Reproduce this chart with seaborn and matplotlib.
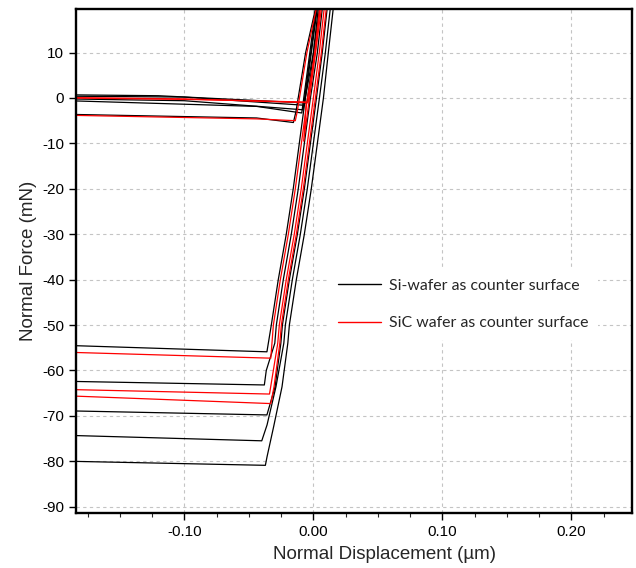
import numpy as np
import pandas as pd
import matplotlib
matplotlib.use("Agg")
import matplotlib.pyplot as plt
from matplotlib.ticker import MultipleLocator, FixedLocator
import seaborn as sns

# ---------------- data ----------------
series_labels = ["Si-wafer as counter surface", "SiC wafer as counter surface"]

# retraction curves: horizontal baseline from the left, corner, then steep rise
ret_A_x = [-0.19, -0.036, -0.0326, -0.0272, -0.0210, -0.0156, -0.0109, -0.0062, 0.0000, 0.0047]
ret_A_y = [-54.5, -55.9, -50, -40, -30, -20, -10, 0, 10, 22]
ret_B_x = [-0.19, -0.033, -0.0310, -0.0256, -0.0194, -0.0140, -0.0093, -0.0046, 0.0015, 0.0062]
ret_B_y = [-56.0, -57.3, -50, -40, -30, -20, -10, 0, 10, 22]
ret_C_x = [-0.19, -0.038, -0.0365, -0.0299, -0.0287, -0.0233, -0.0171, -0.0117, -0.0070, -0.0023, 0.0031, 0.0078]
ret_C_y = [-62.4, -63.2, -60, -54, -50, -40, -30, -20, -10, 0, 10, 22]
ret_D_x = [-0.19, -0.034, -0.0276, -0.0264, -0.0210, -0.0148, -0.0094, -0.0047, 0.0000, 0.0046, 0.0093]
ret_D_y = [-64.2, -65.2, -54, -50, -40, -30, -20, -10, 0, 10, 22]
ret_E_x = [-0.19, -0.033, -0.0305, -0.0260, -0.0248, -0.0194, -0.0132, -0.0078, -0.0031, 0.0016, 0.0062, 0.0109]
ret_E_y = [-65.6, -67.3, -63.6, -54, -50, -40, -30, -20, -10, 0, 10, 22]
ret_F_x = [-0.19, -0.036, -0.0297, -0.0252, -0.0240, -0.0186, -0.0124, -0.0070, -0.0023, 0.0024, 0.0069, 0.0116]
ret_F_y = [-68.9, -69.8, -63.6, -54, -50, -40, -30, -20, -10, 0, 10, 22]
ret_G_x = [-0.19, -0.040, -0.0359, -0.0290, -0.0229, -0.0217, -0.0163, -0.0101, -0.0047, 0.0000, 0.0047, 0.0093, 0.0140]
ret_G_y = [-74.3, -75.5, -72.0, -63.6, -54, -50, -40, -30, -20, -10, 0, 10, 22]
ret_H_x = [-0.19, -0.0372, -0.0359, -0.0308, -0.0243, -0.0198, -0.0186, -0.0132, -0.0070, -0.0016, 0.0031, 0.0078, 0.0116, 0.0163]
ret_H_y = [-80.0, -80.9, -79.0, -72.4, -63.6, -54, -50, -40, -30, -20, -10, 0, 10, 22]

# approach curves: baseline near zero, contact point, rise to the top
app_1_x = [-0.19, -0.12, -0.005, 0.0059]
app_1_y = [0.7, 0.5, -1.1, 22]
app_2_x = [-0.19, -0.10, -0.007, 0.0041]
app_2_y = [0.4, 0.2, -1.6, 22]
app_3_x = [-0.19, -0.10, -0.0055, -0.0075, -0.0030, 0.0073]
app_3_y = [0.1, -0.2, -1.0, -9.5, 0, 22]
app_4_x = [-0.19, -0.10, -0.008, 0.0036]
app_4_y = [-0.2, -0.6, -2.6, 22]
app_5_x = [-0.19, -0.044, -0.009, 0.0029]
app_5_y = [-0.6, -1.85, -3.3, 22]
app_6_x = [-0.19, -0.044, -0.0155, -0.0135, -0.0060, 0.0035]
app_6_y = [-3.6, -4.4, -5.4, -3.0, 10, 22]
app_7_x = [-0.19, -0.044, -0.014, -0.0125, -0.0050, 0.0040]
app_7_y = [-3.8, -4.6, -5.0, -3.0, 10, 22]
app_8_x = [-0.19, -0.10, -0.004, 0.0010, 0.0058]
app_8_y = [0.0, -0.3, -0.9, 10, 22]

curves = [
    ("A", 0, ret_A_x, ret_A_y), ("B", 1, ret_B_x, ret_B_y),
    ("C", 0, ret_C_x, ret_C_y), ("D", 1, ret_D_x, ret_D_y),
    ("E", 1, ret_E_x, ret_E_y), ("F", 0, ret_F_x, ret_F_y),
    ("G", 0, ret_G_x, ret_G_y), ("H", 0, ret_H_x, ret_H_y),
    ("U1", 0, app_1_x, app_1_y), ("U2", 0, app_2_x, app_2_y),
    ("U3", 1, app_3_x, app_3_y), ("U4", 0, app_4_x, app_4_y),
    ("U5", 0, app_5_x, app_5_y), ("U6", 0, app_6_x, app_6_y),
    ("U7", 1, app_7_x, app_7_y), ("U8", 1, app_8_x, app_8_y),
]

x_ticks = [-0.10, 0.00, 0.10, 0.20]
x_tick_labels = ["-0.10", "0.00", "0.10", "0.20"]
y_ticks = [-90, -80, -70, -60, -50, -40, -30, -20, -10, 0, 10]
y_tick_labels = ["-90", "-80", "-70", "-60", "-50", "-40", "-30", "-20", "-10", "0", "10"]

rows = []
for name, s, xs, ys in curves:
    for i, (xv, yv) in enumerate(zip(xs, ys)):
        rows.append({"x": xv, "y": yv, "curve": name, "surface": series_labels[s], "order": i})
df = pd.DataFrame(rows)

# ---------------- plotting ----------------
sns.set_style("white")
plt.rcParams["font.family"] = ["Liberation Sans", "DejaVu Sans"]

fig = plt.figure(figsize=(6.36, 5.68), dpi=100)
ax = fig.add_axes([76 / 636, 55 / 568, 556 / 636, 504 / 568])

sns.lineplot(data=df, x="x", y="y", hue="surface", units="curve",
             estimator=None, sort=False, palette=["black", "#ff0000"],
             hue_order=series_labels, linewidth=0.9, ax=ax, legend=True)

ax.set_xlim(-0.184, 0.247)
ax.set_ylim(-91.4, 19.6)

ax.xaxis.set_major_locator(FixedLocator(x_ticks))
ax.set_xticklabels(x_tick_labels)
ax.xaxis.set_minor_locator(MultipleLocator(0.025))
ax.yaxis.set_major_locator(FixedLocator(y_ticks))
ax.set_yticklabels(y_tick_labels)

ax.tick_params(axis="both", which="major", direction="out", length=5, width=1,
               labelsize=11, colors="black", bottom=True, left=True)
ax.tick_params(axis="x", which="minor", direction="out", length=3, width=0.8, bottom=True)
ax.tick_params(axis="y", which="minor", left=False)

ax.grid(True, which="major", linestyle=(0, (3, 3)), color="#c4c4c4", linewidth=0.8)
ax.set_axisbelow(True)

for sp in ax.spines.values():
    sp.set_visible(True)
    sp.set_color("black")
    sp.set_linewidth(1.7)

ax.set_xlabel("Normal Displacement (µm)", fontsize=13.5, labelpad=6)
ax.xaxis.set_label_coords(0.554, -0.066)
ax.set_ylabel("Normal Force (mN)", fontsize=13.5, labelpad=4)

handles, labels = ax.get_legend_handles_labels()
leg = ax.legend(handles, labels, loc="upper left", bbox_to_anchor=(0.44, 0.50),
                frameon=True, facecolor="white", edgecolor="none", framealpha=1,
                prop={"family": "Lato", "size": 11.4}, handlelength=2.7,
                handletextpad=0.5, labelspacing=1.5, borderpad=0.6)
for ln in leg.get_lines():
    ln.set_linewidth(1.0)

fig.savefig("out.png", dpi=100)
